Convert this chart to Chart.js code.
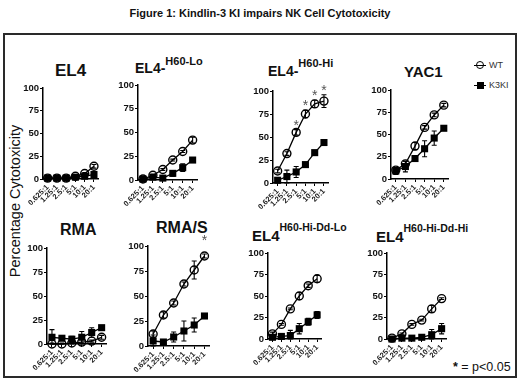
<!DOCTYPE html>
<html><head><meta charset="utf-8">
<script src="https://cdn.jsdelivr.net/npm/chart.js@4.4.1/dist/chart.umd.min.js"></script>
<style>
html,body{margin:0;padding:0;background:#fff;}
#fig{position:relative;width:520px;height:380px;overflow:hidden;background:#fff;font-family:'Liberation Sans',Arial,Helvetica,sans-serif;color:#111;}
#fig .abs{position:absolute;white-space:nowrap;line-height:1;}
#frame{position:absolute;left:3px;top:33px;width:514px;height:345px;box-sizing:border-box;border:2px solid #2a2a2a;}
#figTitle{left:0;width:520px;top:7.5px;text-align:center;font-weight:bold;font-size:11px;}
.pt{font-weight:bold;}
.pt .sp{position:relative;font-size:11px;}
#ylab{left:15px;top:201px;font-size:14.5px;transform:translate(-50%,-50%) rotate(-90deg);}
canvas{position:absolute;}
</style></head>
<body>
<div id="fig">
  <div id="frame"></div>
  <div id="figTitle" class="abs">Figure 1: Kindlin-3 KI impairs NK Cell Cytotoxicity</div>
  <div id="ylab" class="abs">Percentage Cytotoxicity</div>

  <div class="abs pt" style="left:55px;top:62px;font-size:17px">EL4</div>
  <div class="abs pt" style="left:135px;top:60.5px;font-size:14px">EL4-<span class="sp" style="top:-8px">H60-Lo</span></div>
  <div class="abs pt" style="left:268px;top:64px;font-size:14px">EL4-<span class="sp" style="top:-9.5px">H60-Hi</span></div>
  <div class="abs pt" style="left:404px;top:64.2px;font-size:15px">YAC1</div>
  <div class="abs pt" style="left:60px;top:221.7px;font-size:16px">RMA</div>
  <div class="abs pt" style="left:156px;top:220.3px;font-size:16px">RMA/S</div>
  <div class="abs pt" style="left:252px;top:228px;font-size:15px">EL4<span class="sp" style="top:-10.5px;font-size:10.5px">H60-Hi-Dd-Lo</span></div>
  <div class="abs pt" style="left:376px;top:229.2px;font-size:15px">EL4<span class="sp" style="top:-10.5px;font-size:10.5px">H60-Hi-Dd-Hi</span></div>

  <div class="abs" style="left:474px;top:64.5px;width:12px;height:1.3px;background:#000"></div>
  <div class="abs" style="left:476px;top:61px;width:8px;height:8px;border:1.4px solid #000;border-radius:50%;box-sizing:border-box"></div>
  <div class="abs" style="left:489px;top:60.5px;font-size:9px;color:#333">WT</div>
  <div class="abs" style="left:474px;top:84.5px;width:12px;height:1.3px;background:#000"></div>
  <div class="abs" style="left:476.5px;top:81.5px;width:7px;height:7px;background:#000"></div>
  <div class="abs" style="left:489px;top:80.5px;font-size:9px;color:#333">K3KI</div>

  <div class="abs" style="left:453px;top:360.5px;font-size:12.5px"><b>*</b> = p&lt;0.05</div>
</div>
<script>
// ---- data ----
const ratios = ['0.625:1','1.25:1','2.5:1','5:1','10:1','20:1'];
const yTicks = [0,25,50,75,100];

// EL4
const el4WT    = [1,1,1,3,6,14];
const el4WTErr = [1,1,1,1,1,2];
const el4K3    = [1,1,1,2,3,5];
const el4K3Err = [1,1,1,1,2,3];
// EL4-H60-Lo
const loWT    = [1,5,11,21,30,42];
const loWTErr = [1,1,1,1,1,3];
const loK3    = [1,3,2,7,13,21];
const loK3Err = [1,2,1,3,4,1];
// EL4-H60-Hi
const hiWT    = [13,32,55,75,86,89];
const hiWTErr = [2,2,3,4,4,7];
const hiK3    = [3,7,12,20,33,44];
const hiK3Err = [3,7,6,1,2,1];
const hiSig   = [2,3,4,5];
// YAC1
const yacWT    = [10,17,37,58,72,83];
const yacWTErr = [3,3,4,2,2,2];
const yacK3    = [9,14,23,34,46,57];
const yacK3Err = [4,6,3,9,8,2];
// RMA
const rmaWT    = [0,0,1,2,3,7];
const rmaWTErr = [1,1,1,3,1,2];
const rmaK3    = [7,6,5,7,12,17];
const rmaK3Err = [8,2,3,6,5,2];
// RMA/S
const rmasWT    = [12,31,43,62,76,90];
const rmasWTErr = [3,3,2,2,9,2];
const rmasK3    = [5,4,9,15,21,30];
const rmasK3Err = [6,2,5,10,7,2];
const rmasSig   = [5];
// EL4 H60-Hi-Dd-Lo
const ddLoWT    = [6,17,35,50,62,70];
const ddLoWTErr = [2,1,1,4,2,4];
const ddLoK3    = [2,3,4,12,20,28];
const ddLoK3Err = [2,3,6,6,4,4];
// EL4 H60-Hi-Dd-Hi
const ddHiWT    = [1,6,17,22,35,47];
const ddHiWTErr = [1,1,1,1,4,1];
const ddHiK3    = [0,1,1,2,5,12];
const ddHiK3Err = [1,1,1,1,6,6];

const series = [
  [el4WT, el4WTErr, el4K3, el4K3Err, []],
  [loWT, loWTErr, loK3, loK3Err, []],
  [hiWT, hiWTErr, hiK3, hiK3Err, hiSig],
  [yacWT, yacWTErr, yacK3, yacK3Err, []],
  [rmaWT, rmaWTErr, rmaK3, rmaK3Err, []],
  [rmasWT, rmasWTErr, rmasK3, rmasK3Err, rmasSig],
  [ddLoWT, ddLoWTErr, ddLoK3, ddLoK3Err, []],
  [ddHiWT, ddHiWTErr, ddHiK3, ddHiK3Err, []]
];

// ---- layout (pixel placement of each panel's axes) ----
const layout = [
  {axisX:43,  y100:88,  y0:179, xEnd:102, gap:8},
  {axisX:138, y100:85,  y0:180, xEnd:201, gap:8},
  {axisX:273, y100:91,  y0:183, xEnd:332, gap:8},
  {axisX:391, y100:90,  y0:179, xEnd:452, gap:8},
  {axisX:47,  y100:248, y0:344, xEnd:110, gap:8},
  {axisX:148, y100:246, y0:346, xEnd:213, gap:17},
  {axisX:268, y100:253, y0:339, xEnd:325, gap:8},
  {axisX:387, y100:253, y0:339, xEnd:450, gap:8}
];

const FONT = "'Liberation Sans', Arial, Helvetica, sans-serif";
const YW = 28, XH = 30, PT = 14, PR = 2;

const errorBars = {
  id:'errorBars',
  beforeDatasetsDraw(chart){
    const ctx = chart.ctx, ys = chart.scales.y;
    chart.data.datasets.forEach((ds,i)=>{
      const meta = chart.getDatasetMeta(i);
      meta.data.forEach((pt,j)=>{
        const e = ds.errors[j]; if(!e) return;
        const v = ds.data[j];
        const yt = ys.getPixelForValue(v+e), yb = ys.getPixelForValue(Math.max(0,v-e));
        ctx.save();
        ctx.strokeStyle = '#000'; ctx.lineWidth = 1.1;
        ctx.beginPath();
        ctx.moveTo(pt.x, yt); ctx.lineTo(pt.x, yb);
        ctx.moveTo(pt.x-2.5, yt); ctx.lineTo(pt.x+2.5, yt);
        ctx.moveTo(pt.x-2.5, yb); ctx.lineTo(pt.x+2.5, yb);
        ctx.stroke();
        ctx.restore();
      });
    });
  }
};

const sigStars = {
  id:'sigStars',
  afterDatasetsDraw(chart, args, opts){
    const idx = opts.idx || [];
    if(!idx.length) return;
    const ds = chart.data.datasets[0], meta = chart.getDatasetMeta(0), ys = chart.scales.y;
    const ctx = chart.ctx;
    ctx.save();
    ctx.fillStyle = '#555'; ctx.font = '14px ' + FONT;
    ctx.textAlign = 'center'; ctx.textBaseline = 'alphabetic';
    idx.forEach(j=>{
      const top = ys.getPixelForValue(ds.data[j] + ds.errors[j]);
      ctx.fillText('*', meta.data[j].x, top - opts.gap + 8);
    });
    ctx.restore();
  }
};

const fig = document.getElementById('fig');
series.forEach((s,i)=>{
  const [wt, wtErr, k3, k3Err, sig] = s;
  const b = layout[i];
  const L = b.axisX - YW, T = b.y100 - PT;
  const W = b.xEnd - L + PR, H = b.y0 - T + XH;
  const cv = document.createElement('canvas');
  cv.width = W; cv.height = H;
  cv.style.left = L + 'px'; cv.style.top = T + 'px';
  cv.style.width = W + 'px'; cv.style.height = H + 'px';
  fig.appendChild(cv);
  new Chart(cv, {
    type:'line',
    data:{
      labels: ratios,
      datasets:[
        {label:'WT', data:wt, errors:wtErr, borderColor:'#000', borderWidth:1.3, tension:0, clip:false,
         pointStyle:'circle', pointRadius:4, pointBorderWidth:1.4, pointBorderColor:'#000',
         pointBackgroundColor:'rgba(255,255,255,0)'},
        {label:'K3KI', data:k3, errors:k3Err, borderColor:'#000', borderWidth:1.3, tension:0, clip:false,
         pointStyle:'rect', pointRadius:5, pointBorderWidth:0, pointBorderColor:'#000',
         pointBackgroundColor:'#000'}
      ]
    },
    options:{
      responsive:false, animation:false, events:[], devicePixelRatio:1,
      layout:{padding:{left:0, top:PT, right:PR, bottom:0}},
      plugins:{legend:{display:false}, tooltip:{enabled:false}, title:{display:false},
               sigStars:{idx:sig, gap:b.gap}},
      scales:{
        x:{type:'category', offset:true,
           grid:{display:true, drawOnChartArea:false, drawTicks:true, tickLength:3, color:'#000', lineWidth:1, offset:false},
           border:{display:true, color:'#000', width:1.5},
           ticks:{font:{size:7.5, weight:'bold', family:FONT}, color:'#222', minRotation:45, maxRotation:45, padding:1, autoSkip:false},
           afterFit(sc){ sc.height = XH; }},
        y:{min:0, max:100,
           afterBuildTicks(sc){ sc.ticks = yTicks.map(v=>({value:v})); },
           grid:{display:true, drawOnChartArea:false, drawTicks:true, tickLength:3, color:'#000', lineWidth:1},
           border:{display:true, color:'#000', width:1.5},
           ticks:{font:{size:9.5, weight:'bold', family:FONT}, color:'#111', padding:1},
           afterFit(sc){ sc.width = YW; }}
      }
    },
    plugins:[errorBars, sigStars]
  });
});
</script>
</body></html>
